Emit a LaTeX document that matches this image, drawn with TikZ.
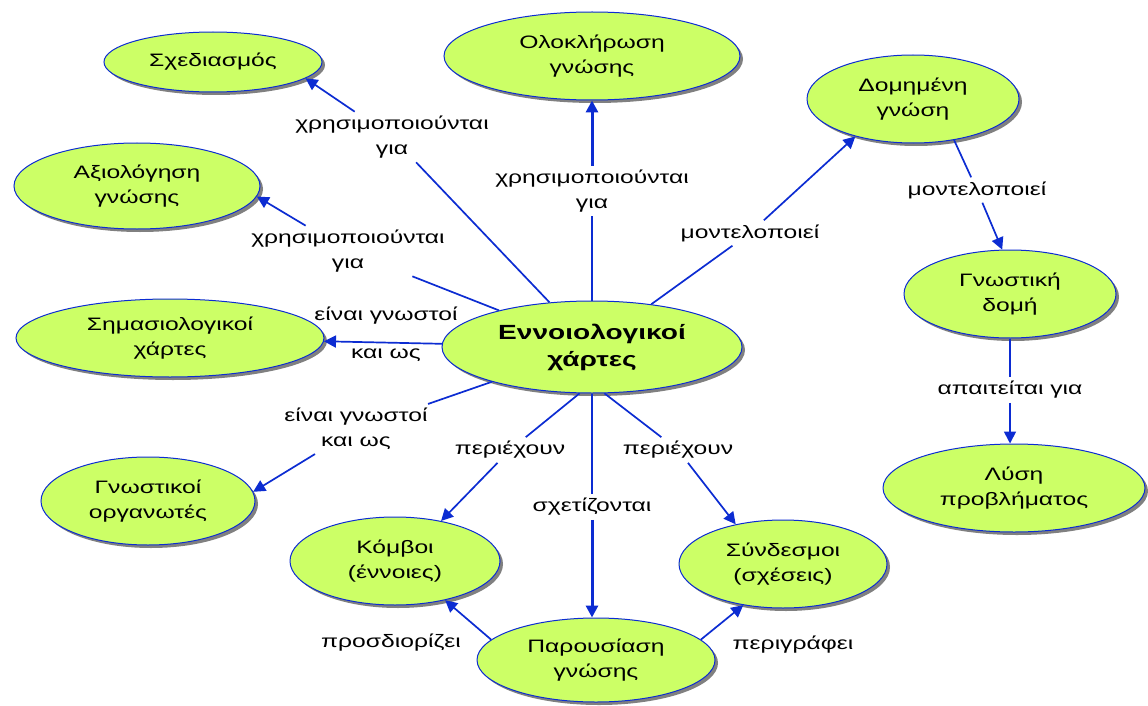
\documentclass[tikz,border=0pt]{standalone}
\usepackage{fontspec}
\setmainfont{Liberation Sans}[FakeStretch=1.37]
\usetikzlibrary{shapes.geometric,arrows.meta,shadows}
\definecolor{nodefill}{RGB}{204,255,102}
\definecolor{lineblue}{RGB}{12,44,210}
\tikzset{
  concept/.style={ellipse, draw=lineblue, line width=1pt, fill=nodefill, inner sep=0pt,
    align=center, font=\fontsize{18}{25}\selectfont,
    drop shadow={shadow xshift=3pt, shadow yshift=-3pt, fill=black!50, opacity=1}},
  lab/.style={align=center, inner sep=4pt, font=\fontsize{18}{25}\selectfont},
  conn/.style={draw=lineblue, line width=1.7pt},
  heavy/.style={draw=lineblue, line width=3pt},
  arr/.style={-{Triangle[length=12pt,width=12pt]}}
}
\begin{document}
\begin{tikzpicture}[x=1pt,y=-1pt]
\fill[white] (0,0) rectangle (1148,706);
\useasboundingbox (0,0) rectangle (1148,706);
% concepts
\node[concept, minimum width=300pt, minimum height=92pt, font=\bfseries\fontsize{20.5}{27}\selectfont] (central) at (592,347) {Εννοιολογικοί\\χάρτες};
\node[concept, minimum width=218pt, minimum height=60pt] (sxed) at (213,62) {Σχεδιασμός};
\node[concept, minimum width=296pt, minimum height=88pt] (olok) at (592,56) {Ολοκλήρωση\\γνώσης};
\node[concept, minimum width=212pt, minimum height=88pt] (dom) at (913,99) {Δομημένη\\γνώση};
\node[concept, minimum width=246pt, minimum height=86pt] (axi) at (137,186) {Αξιολόγηση\\γνώσης};
\node[concept, minimum width=212pt, minimum height=88pt] (gnd) at (1010,294) {Γνωστική\\δομή};
\node[concept, minimum width=308pt, minimum height=78pt] (sem) at (170,338) {Σημασιολογικοί\\χάρτες};
\node[concept, minimum width=262pt, minimum height=88pt] (lysi) at (1014,488) {Λύση\\προβλήματος};
\node[concept, minimum width=214pt, minimum height=88pt] (gorg) at (148,501) {Γνωστικοί\\οργανωτές};
\node[concept, minimum width=210pt, minimum height=88pt] (komb) at (395,561) {Κόμβοι\\(έννοιες)};
\node[concept, minimum width=208pt, minimum height=88pt] (synd) at (783,564) {Σύνδεσμοι\\(σχέσεις)};
\node[concept, minimum width=238pt, minimum height=84pt] (par) at (596,660) {Παρουσίαση\\γνώσης};
% labels
\node[lab] (lsx) at (392,137) {χρησιμοποιούνται\\για};
\node[lab] (lax) at (348,251) {χρησιμοποιούνται\\για};
\node[lab] (lol) at (592,191) {χρησιμοποιούνται\\για};
\node[lab] (ldm) at (750,233) {μοντελοποιεί};
\node[lab] (lgd) at (977,190) {μοντελοποιεί};
\node[lab] (lly) at (1010,390) {απαιτείται για};
\node[lab] (lsem) at (386,334) {είναι γνωστοί\\[13pt]και ως};
\node[lab] (lgo) at (356,429) {είναι γνωστοί\\και ως};
\node[lab] (lkb) at (510,450) {περιέχουν};
\node[lab] (lsc) at (592,507) {σχετίζονται};
\node[lab] (lsy) at (678,450) {περιέχουν};
\node[lab] (lpk) at (391,643) {προσδιορίζει};
\node[lab] (lps) at (793,645) {περιγράφει};
% connectors
\draw[conn] (central) -- (lsx);
\draw[conn,arr] (lsx) -- (sxed.-10);
\draw[conn] (central) -- (lax);
\draw[conn,arr] (lax) -- (axi.-5);
\draw[conn] (central) -- (lol);
\draw[heavy,arr] (lol) -- (olok);
\draw[conn] (central) -- (ldm);
\draw[conn,arr] (ldm) -- (dom.213);
\draw[conn] (dom.-45) -- (lgd);
\draw[conn,arr] (lgd) -- (gnd.100);
\draw[conn] (gnd) -- (lly);
\draw[conn,arr] (lly) -- (lly |- lysi.north);
\draw[conn,arr] (central) -- (sem);
\draw[conn] (central) -- (lgo);
\draw[conn,arr] (lgo) -- (gorg.5);
\draw[conn] (central.-105) -- (lkb);
\draw[conn,arr] (lkb) -- (komb.41);
\draw[conn] (central) -- (lsc);
\draw[heavy,arr] (lsc) -- (lsc |- par.north);
\draw[conn] (central.-75) -- (lsy);
\draw[conn,arr] (lsy) -- (synd.140);
\draw[conn,arr] (par.169) -- (komb.-38);
\draw[conn,arr] (par.11) -- (synd.226);
\end{tikzpicture}
\end{document}
